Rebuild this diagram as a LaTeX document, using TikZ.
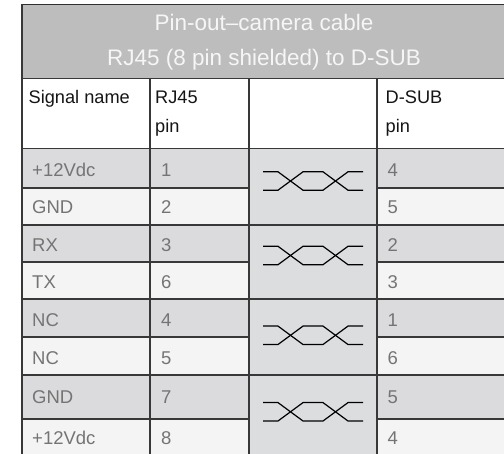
\documentclass[tikz,border=0pt]{standalone}
\usepackage{fontspec}
\setmainfont{Liberation Sans}
\definecolor{titlefill}{HTML}{BDBDBD}
\definecolor{darkrow}{HTML}{DBDBDD}
\definecolor{lightrow}{HTML}{F4F4F4}
\definecolor{midcol}{HTML}{DCDDDF}
\definecolor{gridc}{HTML}{383838}
\definecolor{dattext}{HTML}{747474}
\definecolor{hdrtext}{HTML}{151515}
\definecolor{ttltext}{HTML}{F6F6F6}
\tikzset{
  gridline/.style={draw=gridc,line width=1.5pt},
  ttl/.style={inner sep=0pt,anchor=base,text=ttltext,font=\fontsize{22.5}{27}\selectfont},
  hdr/.style={inner sep=0pt,anchor=base west,text=hdrtext,font=\fontsize{18.2}{22}\selectfont},
  dat/.style={inner sep=0pt,anchor=base west,text=dattext,font=\fontsize{18.5}{22}\selectfont},
  xover/.style={draw=black,line width=1.2pt,line join=miter}
}
\begin{document}
\begin{tikzpicture}[x=1pt,y=-1pt]
\useasboundingbox (0,0) rectangle (504,454);
\clip (0,0) rectangle (504,454);
% fills
\fill[titlefill] (22,4.5) rectangle (508,78.5);
\fill[white] (22,78.5) rectangle (508,148.5);
\foreach \ya/\yb/\c in {148.5/188/darkrow,188/225/lightrow,225/262/darkrow,262/299/lightrow,299/337/darkrow,337/375/lightrow,375/419/darkrow,419/460/lightrow}{
  \fill[\c] (22,\ya) rectangle (249,\yb);
  \fill[\c] (377,\ya) rectangle (508,\yb);
}
\fill[midcol] (249,148.5) rectangle (377,460);
% grid lines
\draw[gridline,draw=gridc!85!black] (21.2,4.5) -- (508,4.5);
\draw[gridline] (22,4.5) -- (22,460);
\foreach \y in {78.5,148.5,225,299,375}{\draw[gridline] (22,\y) -- (508,\y);}
\foreach \y in {188,262,337,419}{
  \draw[gridline] (22,\y) -- (249,\y);
  \draw[gridline] (377,\y) -- (508,\y);
}
\foreach \x in {150,249,377}{\draw[gridline] (\x,78.5) -- (\x,460);}
% crossover symbols
\foreach \cy in {181,255.5,335.3,411.8}{
  \draw[xover] (263,\cy-9.2) -- (278,\cy-9.2) -- (303,\cy+9.2) -- (323,\cy+9.2) -- (348,\cy-9.2) -- (363,\cy-9.2);
  \draw[xover] (263,\cy+9.2) -- (278,\cy+9.2) -- (303,\cy-9.2) -- (323,\cy-9.2) -- (348,\cy+9.2) -- (363,\cy+9.2);
}
% title
\node[ttl] (title1) at (264,30.5) {Pin-out–camera cable};
\node[ttl] (title2) at (264,66) {RJ45 (8 pin shielded) to D-SUB};
% header
\node[hdr] (hsig) at (28.5,104) {Signal name};
\node[hdr] (hrj) at (155,104) {RJ45};
\node[hdr] (hrjpin) at (155,133) {pin};
\node[hdr] (hds) at (385.5,104) {D-SUB};
\node[hdr] (hdspin) at (385.5,133) {pin};
% data
\foreach \b/\s/\p/\q [count=\i] in {176.7/+12Vdc/1/4, 213.3/GND/2/5, 251.7/RX/3/2, 288.3/TX/6/3, 326.7/NC/4/1, 365/NC/5/6, 403.3/GND/7/5, 445/+12Vdc/8/4}{
  \node[dat] (sig\i) at (32,\b) {\s};
  \node[dat] (rj\i) at (161,\b) {\p};
  \node[dat] (ds\i) at (387.5,\b) {\q};
}
\end{tikzpicture}
\end{document}
